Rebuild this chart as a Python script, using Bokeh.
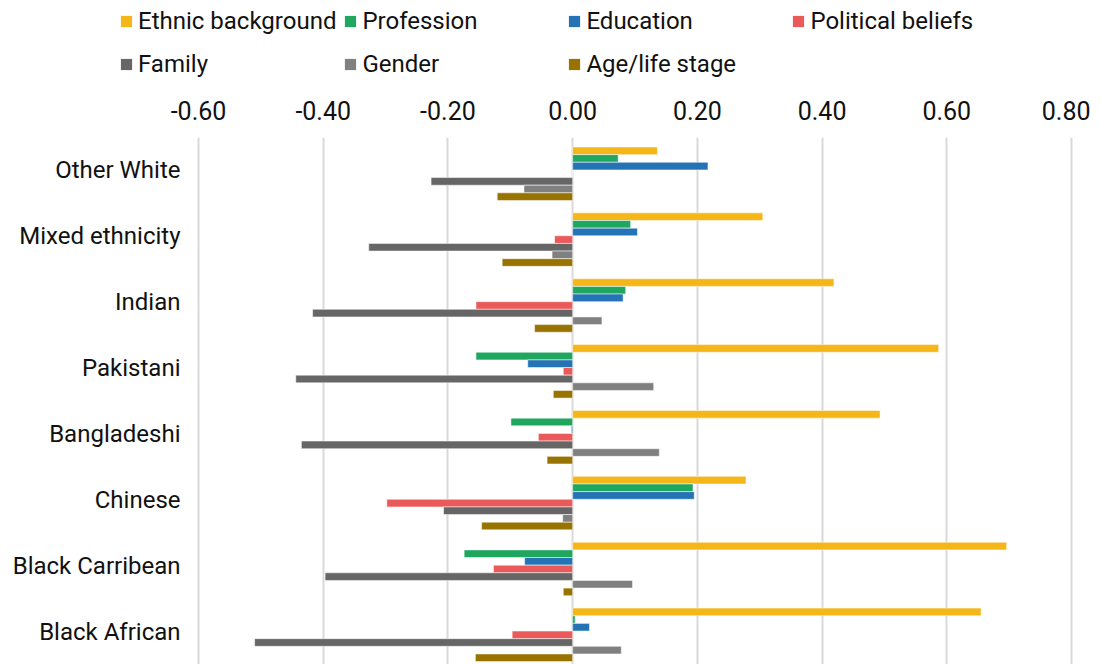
from bokeh.plotting import figure
from bokeh.layouts import column
from bokeh.models import Range1d, FactorRange, Legend, LegendItem, NumeralTickFormatter, FixedTicker, ColumnDataSource
from bokeh.core.properties import value
from bokeh.transform import dodge
from bokeh.embed import file_html
from bokeh.resources import INLINE

categories = ["Other White", "Mixed ethnicity", "Indian", "Pakistani",
              "Bangladeshi", "Chinese", "Black Carribean", "Black African"]
series = ["Ethnic background", "Profession", "Education", "Political beliefs",
          "Family", "Gender", "Age/life stage"]
ethnic = [0.136, 0.305, 0.419, 0.587, 0.493, 0.278, 0.696, 0.655]
profession = [0.073, 0.093, 0.085, -0.155, -0.099, 0.193, -0.174, 0.004]
education = [0.217, 0.104, 0.081, -0.072, -0.002, 0.195, -0.077, 0.027]
political = [0.0, -0.029, -0.155, -0.015, -0.055, -0.298, -0.127, -0.097]
family = [-0.227, -0.327, -0.417, -0.444, -0.435, -0.207, -0.397, -0.510]
gender = [-0.078, -0.033, 0.047, 0.130, 0.139, -0.016, 0.096, 0.078]
age = [-0.121, -0.113, -0.061, -0.031, -0.041, -0.146, -0.015, -0.156]
x_ticks = [-0.6, -0.4, -0.2, 0.0, 0.2, 0.4, 0.6, 0.8]
colors = ["#F4B619", "#1FA75F", "#2473B5", "#EB5A5A", "#666666", "#808080", "#997300"]

values = [ethnic, profession, education, political, family, gender, age]

FONT = "Roboto"
TEXT = "#111111"

# layout constants (pixels / axis units)
PX_PER_UNIT = 873 / 1.4
X_START = -0.6 - 198 / PX_PER_UNIT
X_END = 0.8 + 2 / PX_PER_UNIT
LABEL_X = -0.6 - 18 / PX_PER_UNIT

data = {"cat": categories}
for s, v in zip(series, values):
    data[s] = v
src = ColumnDataSource(data)

# ---------------- main chart ----------------
p = figure(
    y_range=FactorRange(factors=categories[::-1], range_padding=0),
    x_range=Range1d(X_START, X_END),
    x_axis_location="above", y_axis_location=None,
    width=1090, height=574,
    min_border_left=0, min_border_right=17, min_border_top=47, min_border_bottom=0,
    output_backend="svg", toolbar_location=None,
    background_fill_color="white", border_fill_color="white",
)
p.outline_line_color = None

step = 0.116
for i, (s, c) in enumerate(zip(series, colors)):
    off = (3 - i) * step - 0.05
    p.hbar(y=dodge("cat", off, range=p.y_range), left=0, right=s, height=step,
           source=src, fill_color=c, line_color="white", line_alpha=0.5, line_width=1)

# category labels
p.text(x=LABEL_X, y="cat", text="cat", source=src, text_align="right",
       text_baseline="middle", text_font=value(FONT), text_font_size=value("24px"),
       text_color=TEXT)

xa = p.xaxis[0]
xa.ticker = FixedTicker(ticks=x_ticks)
xa.formatter = NumeralTickFormatter(format="0.00")
xa.axis_line_color = None
xa.major_tick_line_color = None
xa.minor_tick_line_color = None
xa.major_tick_out = 0
xa.major_label_standoff = 18
xa.major_label_text_font = FONT
xa.major_label_text_font_size = "25px"
xa.major_label_text_color = TEXT

p.xgrid.grid_line_color = "#D9D9D9"
p.xgrid.grid_line_width = 2
p.ygrid.grid_line_color = None

# ---------------- legend strip ----------------
lg = figure(width=1090, height=90, x_range=Range1d(10, 11),
            y_range=FactorRange(factors=categories[::-1]),
            x_axis_location=None, y_axis_location=None,
            min_border=0, output_backend="svg", toolbar_location=None,
            background_fill_color="white", border_fill_color="white")
lg.outline_line_color = None
lg.grid.visible = False

items = []
for s, c in zip(series, colors):
    r = lg.hbar(y="cat", left=0, right=s, height=0, source=src,
                fill_color=c, line_color=None)
    items.append(LegendItem(label=s, renderers=[r]))

legend = Legend(items=items, orientation="horizontal", ncols=4,
                location=(119, 8), margin=0, padding=0, spacing=7,
                glyph_width=14, glyph_height=14, label_standoff=5,
                label_width=198, label_height=36,
                label_text_font=FONT, label_text_font_size="24px",
                label_text_color=TEXT,
                border_line_color=None, background_fill_alpha=0)
lg.add_layout(legend, "center")

layout = column(lg, p, spacing=0)
open("out.html", "w").write(file_html(layout, INLINE))
